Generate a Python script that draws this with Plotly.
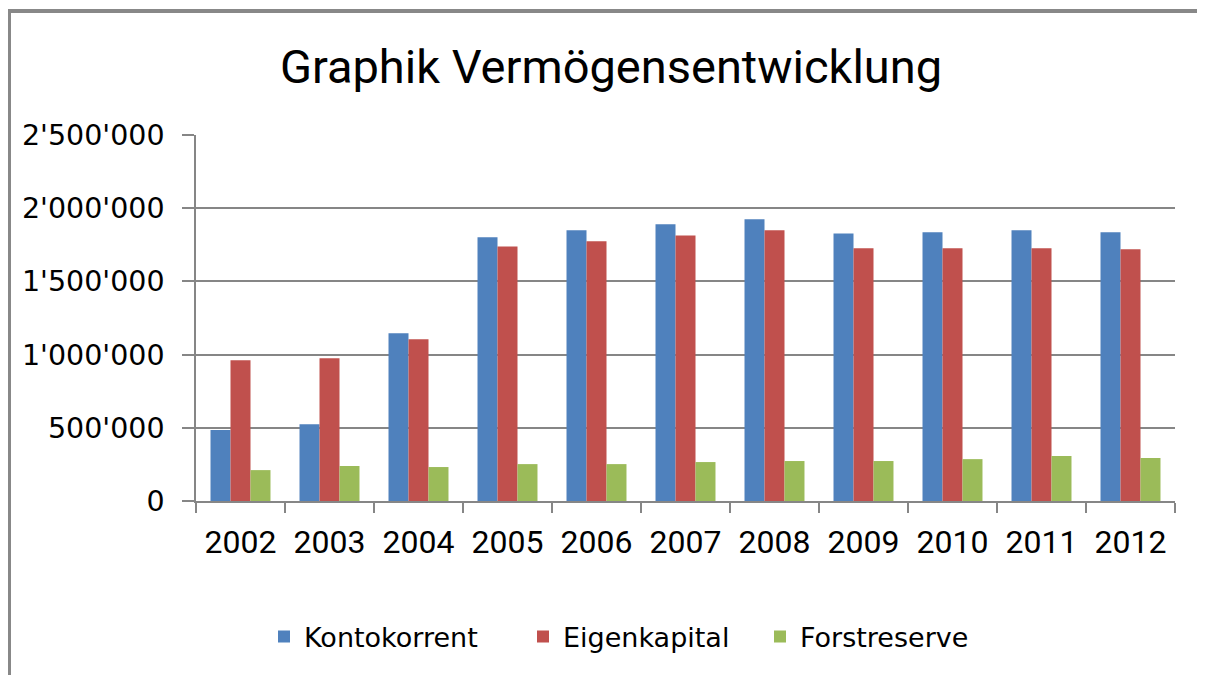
import plotly.graph_objects as go

years = ["2002", "2003", "2004", "2005", "2006", "2007", "2008", "2009", "2010", "2011", "2012"]
kontokorrent = [485000, 525000, 1146000, 1801000, 1849000, 1890000, 1924000, 1828000, 1835000, 1849000, 1835000]
eigenkapital = [962000, 975000, 1105000, 1739000, 1774000, 1814000, 1849000, 1726000, 1726000, 1726000, 1719000]
forstreserve = [211000, 239000, 232000, 252000, 252000, 266000, 273000, 273000, 286000, 307000, 293000]

series_names = ["Kontokorrent", "Eigenkapital", "Forstreserve"]
series_colors = ["#4F81BD", "#C0504D", "#9BBB59"]
y_ticks = [0, 500000, 1000000, 1500000, 2000000, 2500000]

# page body has an 8px margin: work in page pixels, shifted by OFF
OFF = 8
W, H = 1205 - OFF, 675 - OFF
L, R, T, B = 196 - OFF, 1175 - OFF, 135 - OFF, 501 - OFF


def px_x(px):
    return (px - OFF - L) / (R - L)


def px_y(py):
    return (B - (py - OFF)) / (B - T)


fig = go.Figure()
legend_ids = ["legend", "legend2", "legend3"]
for name, vals, col, lg in zip(series_names, [kontokorrent, eigenkapital, forstreserve], series_colors, legend_ids):
    fig.add_trace(go.Bar(x=years, y=vals, name=name, marker=dict(color=col, line=dict(width=0)), legend=lg))

grey = "#868686"
legend_font = dict(family="DejaVu Sans", size=27, color="#000000")
legend_x = [264, 523, 760]
layouts = {}
for lg, lx in zip(legend_ids, legend_x):
    layouts[lg] = dict(x=px_x(lx), xanchor="left", y=px_y(637), yanchor="middle",
                       font=legend_font, bgcolor="rgba(0,0,0,0)", borderwidth=0)

fig.update_layout(
    width=W, height=H,
    margin=dict(l=L, r=W - R, t=T, b=H - B, pad=0),
    paper_bgcolor="white", plot_bgcolor="white",
    separators=".'",
    barmode="group", bargap=0.326, bargroupgap=0,
    title=dict(text="Graphik Vermögensentwicklung", x=(611 - OFF) / W, xanchor="center",
               y=1 - (67 - OFF) / H, yanchor="middle", yref="container",
               font=dict(family="Roboto", size=47, color="#000000")),
    showlegend=True,
    **layouts,
)

fig.update_xaxes(type="category", showline=True, linecolor=grey, linewidth=1.5,
                 ticks="outside", tickson="boundaries", ticklen=10, tickwidth=1.5, tickcolor=grey,
                 showgrid=False, ticklabelstandoff=12,
                 tickfont=dict(family="Roboto", size=32, color="#000000"))
fig.update_yaxes(range=[0, 2500000], tickvals=y_ticks, tickformat=",d",
                 showline=True, linecolor=grey, linewidth=1.5,
                 ticks="outside", ticklen=12, tickwidth=1.5, tickcolor=grey,
                 showgrid=True, gridcolor=grey, gridwidth=1.5, zeroline=False,
                 ticklabelstandoff=12,
                 tickfont=dict(family="DejaVu Sans", size=28.5, color="#000000"))

# outer frame (partially visible in reference)
fig.add_shape(type="line", xref="paper", yref="paper", x0=px_x(8), x1=px_x(1206), y0=px_y(11), y1=px_y(11),
              line=dict(color="#888888", width=4))
fig.add_shape(type="line", xref="paper", yref="paper", x0=px_x(9.5), x1=px_x(9.5), y0=px_y(9), y1=px_y(676),
              line=dict(color="#888888", width=3))

fig.write_html("out.html")
